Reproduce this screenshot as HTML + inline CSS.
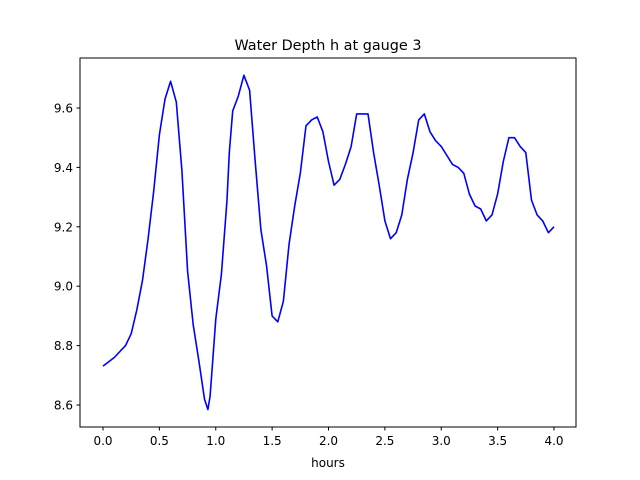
<!DOCTYPE html>
<html><head><meta charset="utf-8"><style>
html,body{margin:0;padding:0;background:#fff;}
svg{display:block;font-family:"DejaVu Sans","Liberation Sans",sans-serif;}
</style></head><body>
<svg id="chart" width="640" height="480">
<rect width="640" height="480" fill="#fff"/>
<text x="328" y="50" text-anchor="middle" font-size="14.4">Water Depth h at gauge 3</text>
<g id="plot"></g>
<rect x="80" y="58" width="496" height="369" fill="none" stroke="#000" stroke-width="1"/>
<text x="328" y="467" text-anchor="middle" font-size="12">hours</text>
</svg>
<script>
const times = [0,0.1,0.15,0.2,0.25,0.3,0.35,0.4,0.45,0.5,0.55,0.6,0.65,0.7,0.75,0.8,0.85,0.9,0.93,0.95,1.0,1.05,1.1,1.12,1.15,1.2,1.25,1.3,1.35,1.4,1.45,1.5,1.55,1.6,1.65,1.7,1.75,1.8,1.85,1.9,1.95,2.0,2.05,2.1,2.15,2.2,2.25,2.3,2.35,2.4,2.45,2.5,2.55,2.6,2.65,2.7,2.75,2.8,2.85,2.9,2.95,3.0,3.05,3.1,3.15,3.2,3.25,3.3,3.35,3.4,3.45,3.5,3.55,3.6,3.65,3.7,3.75,3.8,3.85,3.9,3.95,4.0];
const depth = [8.731,8.76,8.78,8.80,8.84,8.92,9.02,9.16,9.32,9.51,9.63,9.69,9.62,9.39,9.05,8.87,8.75,8.62,8.585,8.63,8.89,9.04,9.29,9.45,9.59,9.64,9.71,9.66,9.42,9.19,9.07,8.90,8.88,8.95,9.14,9.27,9.38,9.54,9.56,9.57,9.52,9.42,9.34,9.36,9.41,9.47,9.58,9.58,9.58,9.45,9.34,9.22,9.16,9.18,9.24,9.36,9.45,9.56,9.58,9.52,9.49,9.47,9.44,9.41,9.40,9.38,9.31,9.27,9.26,9.22,9.24,9.31,9.42,9.50,9.50,9.47,9.45,9.29,9.24,9.22,9.18,9.20];
const xTicks = [0,0.5,1,1.5,2,2.5,3,3.5,4];
const xTickLabels = ["0.0","0.5","1.0","1.5","2.0","2.5","3.0","3.5","4.0"];
const yTicks = [8.6,8.8,9.0,9.2,9.4,9.6];
const yTickLabels = ["8.6","8.8","9.0","9.2","9.4","9.6"];

const X = t => 103 + t * 112.75;
const Y = v => 405 - (v - 8.6) * 297;
const NS = "http://www.w3.org/2000/svg";
const plot = document.getElementById('plot');
function mk(tag, attrs){const e=document.createElementNS(NS,tag);for(const k in attrs)e.setAttribute(k,attrs[k]);plot.appendChild(e);return e;}

xTicks.forEach((t,i)=>{
  const l=mk('line',{x1:X(t),x2:X(t),y1:427,y2:430.5,stroke:'#000'});
  
  
  const tx=mk('text',{x:X(t),y:445,'text-anchor':'middle','font-size':'12'});
  tx.textContent=xTickLabels[i];
  
  
});
yTicks.forEach((v,i)=>{
  const l=mk('line',{x1:76.5,x2:80,y1:Y(v),y2:Y(v),stroke:'#000'});
  
  
  const tx=mk('text',{x:73,y:Y(v)+4.5,'text-anchor':'end','font-size':'12'});
  tx.textContent=yTickLabels[i];
  
  
});
const d = times.map((t,i)=>(i?'L':'M')+X(t).toFixed(1)+','+Y(depth[i]).toFixed(1)).join(' ');
const p = mk('path',{d:d,fill:'none',stroke:'#0000ff','stroke-width':'1.6','stroke-linejoin':'round'});


</script>
</body></html>
